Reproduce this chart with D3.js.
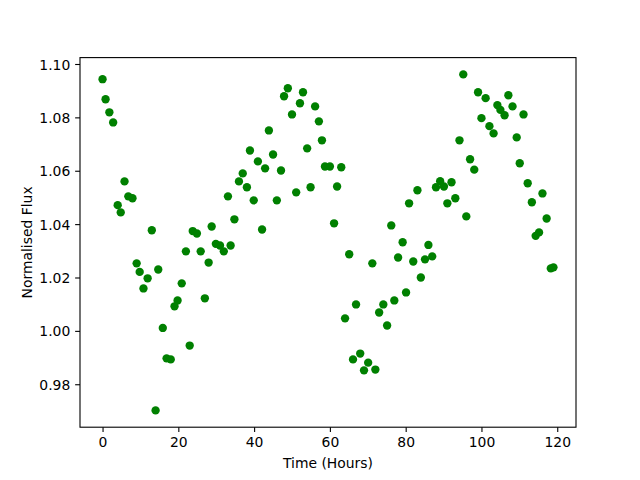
<!DOCTYPE html>
<html>
<head>
<meta charset="utf-8">
<script src="https://cdn.jsdelivr.net/npm/d3@7"></script>
<style>
  html, body { margin: 0; padding: 0; background: #fff; }
  svg { display: block; }
  text { font-family: "DejaVu Sans", sans-serif; fill: #000; }
</style>
</head>
<body>
<script>
// Time (hours)
const timeHours = [
  0.0, 0.8, 1.8, 2.8, 4.0, 4.8, 5.8, 6.8, 7.9, 9.0,
  9.8, 10.8, 11.9, 13.0, 14.0, 14.7, 15.9, 16.9, 18.0, 19.0,
  19.8, 20.9, 22.0, 23.0, 23.8, 24.9, 25.9, 27.0, 28.0, 28.8,
  29.9, 31.0, 32.0, 33.1, 33.8, 34.8, 36.0, 37.0, 38.1, 38.9,
  39.9, 41.0, 42.1, 42.9, 43.9, 45.0, 46.0, 47.1, 47.9, 48.9,
  50.0, 51.1, 52.1, 52.9, 54.0, 54.9, 56.1, 57.1, 57.9, 58.7,
  60.0, 61.1, 61.9, 63.0, 64.0, 65.1, 66.1, 66.9, 68.0, 69.0,
  70.1, 71.2, 72.0, 73.0, 74.1, 75.1, 76.2, 77.0, 78.0, 79.2,
  80.1, 80.9, 82.0, 83.1, 84.0, 85.1, 86.0, 87.0, 88.0, 89.1,
  90.1, 91.0, 92.1, 93.1, 94.2, 95.2, 96.0, 97.0, 98.1, 99.1,
  100.0, 101.1, 102.1, 103.2, 104.2, 105.0, 106.1, 107.1, 108.2, 109.3,
  110.1, 111.1, 112.2, 113.3, 114.3, 115.2, 116.1, 117.2, 118.3, 119.0
];
// Normalised flux
const flux = [
  1.0943, 1.0868, 1.0819, 1.0781, 1.0471, 1.0444, 1.0560, 1.0504, 1.0497, 1.0253,
  1.0221, 1.0159, 1.0197, 1.0377, 0.9702, 1.0230, 1.0011, 0.9897, 0.9893, 1.0092,
  1.0114, 1.0178, 1.0298, 0.9945, 1.0374, 1.0365, 1.0298, 1.0122, 1.0256, 1.0391,
  1.0326, 1.0320, 1.0298, 1.0504, 1.0320, 1.0418, 1.0560, 1.0590, 1.0538, 1.0676,
  1.0489, 1.0635, 1.0380, 1.0609, 1.0751, 1.0661, 1.0489, 1.0601, 1.0879, 1.0909,
  1.0811, 1.0519, 1.0853, 1.0894, 1.0684, 1.0538, 1.0841, 1.0785, 1.0714, 1.0616,
  1.0616, 1.0403, 1.0541, 1.0613, 1.0047, 1.0287, 0.9893, 1.0099, 0.9915, 0.9852,
  0.9881, 1.0253, 0.9855, 1.0069, 1.0099, 1.0020, 1.0395, 1.0114, 1.0275, 1.0332,
  1.0144, 1.0478, 1.0260, 1.0527, 1.0200, 1.0268, 1.0322, 1.0279, 1.0538, 1.0561,
  1.0541, 1.0478, 1.0557, 1.0497, 1.0714, 1.0961, 1.0429, 1.0643, 1.0604, 1.0894,
  1.0797, 1.0872, 1.0767, 1.0740, 1.0846, 1.0828, 1.0808, 1.0883, 1.0841, 1.0725,
  1.0628, 1.0811, 1.0553, 1.0482, 1.0356, 1.0369, 1.0515, 1.0421, 1.0234, 1.0238
];
const xTicks = [0, 20, 40, 60, 80, 100, 120];
const yTicks = [0.98, 1.00, 1.02, 1.04, 1.06, 1.08, 1.10];
const xLabel = "Time (Hours)";
const yLabel = "Normalised Flux";

const W = 640, H = 480;
const L = 80, R = 576, T = 57.6, B = 427.2;

const svg = d3.select("body").append("svg").attr("width", W).attr("height", H);

function padded(arr) {
  const [a, b] = d3.extent(arr);
  const m = (b - a) * 0.05;
  return [a - m, b + m];
}

const x = d3.scaleLinear().domain(padded(timeHours)).range([L, R]);
const y = d3.scaleLinear().domain(padded(flux)).range([B, T]);

const data = timeHours.map((t, i) => ({ t, f: flux[i] }));

// points
svg.append("g")
  .selectAll("circle")
  .data(data)
  .join("circle")
  .attr("cx", d => x(d.t))
  .attr("cy", d => y(d.f))
  .attr("r", 4.17)
  .attr("fill", "#008000");

// axes
const tickLen = 4.86, pad = 4.86;
const xAxis = d3.axisBottom(x).tickValues(xTicks).tickSize(tickLen).tickPadding(pad)
  .tickFormat(d3.format("d"));
const yAxis = d3.axisLeft(y).tickValues(yTicks).tickSize(tickLen).tickPadding(pad)
  .tickFormat(d3.format(".2f"));

const gx = svg.append("g").attr("transform", `translate(0,${B})`).call(xAxis);
const gy = svg.append("g").attr("transform", `translate(${L},0)`).call(yAxis);
[gx, gy].forEach(g => {
  g.select(".domain").remove();
  g.selectAll(".tick line").attr("stroke", "#000").attr("stroke-width", 1.1);
  g.selectAll(".tick text").attr("font-family", "DejaVu Sans").attr("font-size", 13.9).attr("fill", "#000");
});
gx.selectAll(".tick text").attr("dy", "0.74em");
gy.selectAll(".tick text").attr("dy", "0.36em");

// frame
svg.append("rect")
  .attr("x", L).attr("y", T).attr("width", R - L).attr("height", B - T)
  .attr("fill", "none").attr("stroke", "#000").attr("stroke-width", 1.1);

// labels
svg.append("text")
  .attr("x", (L + R) / 2).attr("y", 467.5)
  .attr("text-anchor", "middle")
  .attr("font-size", 13.9)
  .text(xLabel);

svg.append("text")
  .attr("transform", `translate(31.5,${(T + B) / 2}) rotate(-90)`)
  .attr("text-anchor", "middle")
  .attr("font-size", 13.9)
  .text(yLabel);
</script>
</body>
</html>
